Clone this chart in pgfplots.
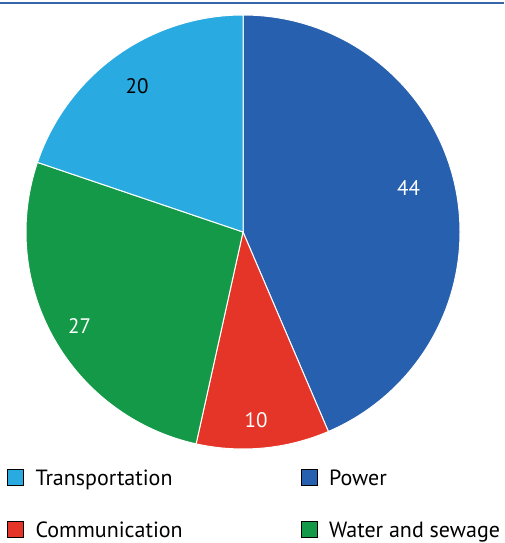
\documentclass[border=0pt]{standalone}
\usepackage{pgfplots}
\usepackage{pgfplotstable}
\pgfplotsset{compat=1.18}
\usepackage{fontspec}
\setmainfont{PT Sans}

\definecolor{cPower}{RGB}{38,96,174}
\definecolor{cComm}{RGB}{229,52,40}
\definecolor{cWater}{RGB}{19,153,72}
\definecolor{cTrans}{RGB}{41,171,226}
\definecolor{cLine}{RGB}{52,101,168}

% slices clockwise from the top; la/lr = label angle and radius
\pgfplotstableread{
value col txt la lr
44 cPower white 15 0.79
10 cComm white -86 0.87
27 cWater white -150 0.87
20 cTrans black 126 0.83
}\piedata

\begin{document}
\begin{tikzpicture}
\path[use as bounding box] (0pt,0pt) rectangle (504pt,543pt);
\draw[cLine, line width=1.2pt] (0pt,540pt) -- (504pt,540pt);
\begin{axis}[
    at={(243pt,311pt)}, anchor=center,
    scale only axis, width=434pt, height=434pt,
    xmin=-1, xmax=1, ymin=-1, ymax=1,
    hide axis, clip=false,
    legend columns=2,
    legend image code/.code={\fill[#1] (0pt,0pt) rectangle (16pt,16pt);},
    legend style={draw=none, fill=none, inner sep=0pt,
        anchor=north west, at={(-0.0438,-0.0461)},
        font=\fontsize{22}{26}\selectfont,
        cells={anchor=base west},
        nodes={inner sep=0pt}, row sep=34pt,
        /tikz/every odd column/.append style={column sep=12pt},
        /tikz/every even column/.append style={column sep=118pt}},
]
\addlegendimage{fill=cTrans}\addlegendentry{Transportation}
\addlegendimage{fill=cPower}\addlegendentry{Power}
\addlegendimage{fill=cComm}\addlegendentry{Communication}
\addlegendimage{fill=cWater}\addlegendentry{Water and sewage}

\pgfplotsextra{
  \xdef\tot{0}
  \foreach \i in {0,...,3}{
    \pgfplotstablegetelem{\i}{value}\of\piedata
    \pgfmathsetmacro\newtot{\tot+\pgfplotsretval}
    \xdef\tot{\newtot}
  }
  \xdef\sang{90}
  \foreach \i in {0,...,3}{
    \pgfplotstablegetelem{\i}{value}\of\piedata \let\sval\pgfplotsretval
    \pgfplotstablegetelem{\i}{col}\of\piedata \let\scol\pgfplotsretval
    \pgfmathsetmacro\eang{\sang-\sval*360/\tot}
    \fill[fill=\scol, draw=white, line width=1pt]
      (axis cs:0,0) -- (axis cs:{cos(\sang)},{sin(\sang)})
      arc[start angle=\sang, end angle=\eang, radius=217pt] -- cycle;
    \xdef\sang{\eang}
  }
  \foreach \i in {0,...,3}{
    \pgfplotstablegetelem{\i}{value}\of\piedata \let\sval\pgfplotsretval
    \pgfplotstablegetelem{\i}{txt}\of\piedata \let\tcol\pgfplotsretval
    \pgfplotstablegetelem{\i}{la}\of\piedata \let\la\pgfplotsretval
    \pgfplotstablegetelem{\i}{lr}\of\piedata \let\lr\pgfplotsretval
    \node[text=\tcol, font=\fontsize{21}{24}\selectfont]
      at (axis cs:{\lr*cos(\la)},{\lr*sin(\la)}) {\sval};
  }
}
\end{axis}
\end{tikzpicture}
\end{document}
